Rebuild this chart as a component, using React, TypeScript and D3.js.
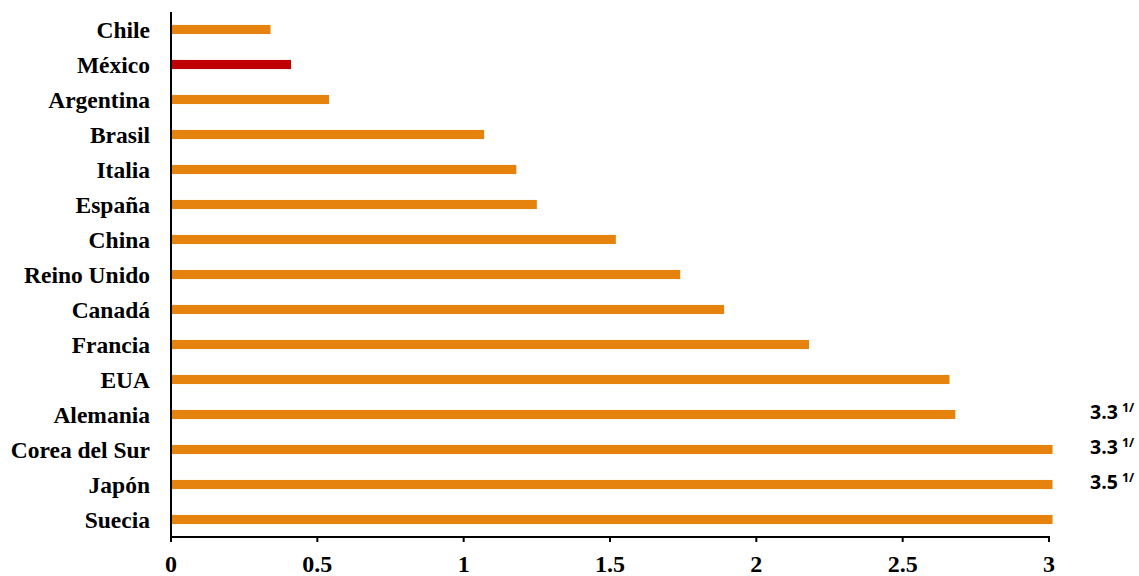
import React from "react";
import * as d3 from "d3";

const countries = [
  "Chile", "México", "Argentina", "Brasil", "Italia", "España", "China",
  "Reino Unido", "Canadá", "Francia", "EUA", "Alemania", "Corea del Sur", "Japón", "Suecia",
];
const values = [0.34, 0.41, 0.54, 1.07, 1.18, 1.25, 1.52, 1.74, 1.89, 2.18, 2.66, 2.68, 3.3, 3.3, 3.5];
const highlighted = ["México"];
const xTicks = [0, 0.5, 1, 1.5, 2, 2.5, 3];
const xTickLabels = ["0", "0.5", "1", "1.5", "2", "2.5", "3"];
const annotationCountries = ["Corea del Sur", "Japón", "Suecia"];
const annotationValues = ["3.3", "3.3", "3.5"];
const annotationNote = "1/";

const W = 1139;
const H = 576;
const ORANGE = "#E6830F";
const RED = "#C00000";

export default function App() {
  const x = d3.scaleLinear().domain([0, 3]).range([171, 1049]);
  const y = d3
    .scaleBand<string>()
    .domain(countries)
    .range([12, 537])
    .paddingInner(0.74)
    .paddingOuter(0.37);
  const xMax = 3.012;
  const axisY = 537;

  return (
    <svg
      width={W}
      height={H}
      style={{ position: "absolute", left: 0, top: 0, background: "#fff" }}
    >
      {countries.map((c, i) => (
        <rect
          key={c}
          x={x(0)}
          y={y(c)!}
          width={x(Math.min(values[i], xMax)) - x(0)}
          height={y.bandwidth()}
          fill={highlighted.includes(c) ? RED : ORANGE}
        />
      ))}
      {countries.map((c) => (
        <text
          key={"l" + c}
          x={150}
          y={y(c)! + y.bandwidth() / 2}
          dy="0.36em"
          textAnchor="end"
          fontFamily="'Liberation Serif', 'Times New Roman', serif"
          fontWeight="bold"
          fontSize={23.5}
          fill="#000"
        >
          {c}
        </text>
      ))}
      <line x1={x(0)} x2={x(0)} y1={12} y2={axisY + 1} stroke="#000" strokeWidth={2} />
      <line x1={x(0) - 1} x2={x(3) + 1} y1={axisY} y2={axisY} stroke="#000" strokeWidth={2} />
      {xTicks.map((t, i) => (
        <g key={"t" + t}>
          <line x1={x(t)} x2={x(t)} y1={axisY} y2={axisY + 5} stroke="#000" strokeWidth={2} />
          <text
            x={x(t)}
            y={572}
            textAnchor="middle"
            fontFamily="'Liberation Serif', 'Times New Roman', serif"
            fontWeight="bold"
            fontSize={24}
            fill="#000"
          >
            {xTickLabels[i]}
          </text>
        </g>
      ))}
      {annotationCountries.map((c, i) => (
        <text
          key={"a" + c}
          x={1090}
          y={y(c)! + y.bandwidth() / 2 - 31}
          fontFamily="'Open Sans', 'Liberation Sans', sans-serif"
          fontWeight="bold"
          fontSize={19.5}
          fill="#000"
        >
          {annotationValues[i]}
          <tspan dx={4} dy={-7} fontSize={12.5}>
            {annotationNote}
          </tspan>
        </text>
      ))}
    </svg>
  );
}
